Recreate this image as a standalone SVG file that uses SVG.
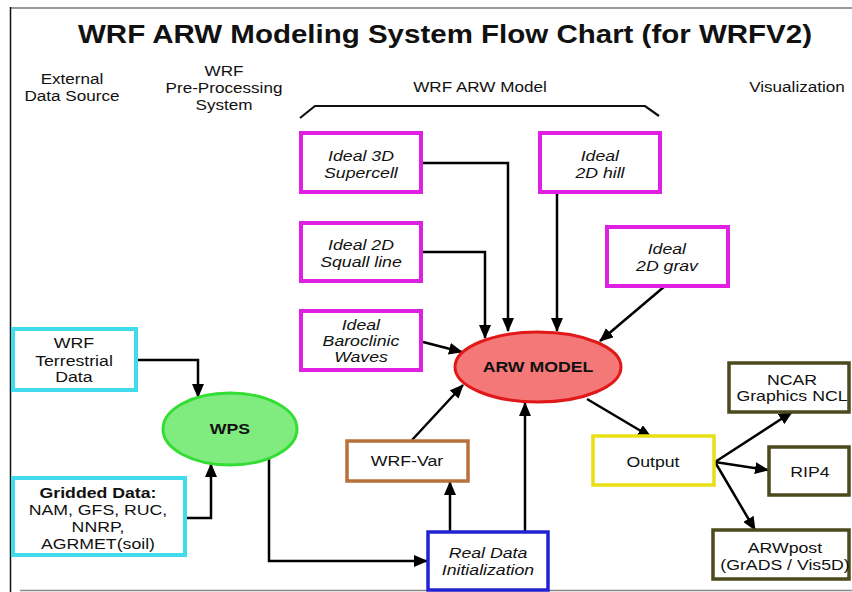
<svg xmlns="http://www.w3.org/2000/svg" width="852" height="592" viewBox="0 0 852 592">
<defs>
<marker id="arr" markerUnits="userSpaceOnUse" markerWidth="14" markerHeight="12" viewBox="0 0 14 12" refX="13" refY="6" orient="auto">
<path d="M0,0 L14,6 L0,12 Z" fill="#000"/>
</marker>
</defs>
<style>
text{font-family:"Liberation Sans",Arial,sans-serif;fill:#111;text-anchor:middle}
text.s{transform-box:fill-box;transform-origin:center;transform:scaleX(1.18)}
.hdr{font-size:14.5px}
.lbl{font-size:15px}
.it{font-size:15px;font-style:italic}
.b{font-weight:bold}
.ideal{fill:#fff;stroke:#e020e0;stroke-width:4}
.cyan{fill:#fff;stroke:#40dced;stroke-width:4}
.olive{fill:#fff;stroke:#4a4a1c;stroke-width:3.5}
.con path,.con line{fill:none;stroke:#000;stroke-width:2.5}
</style>
<rect width="852" height="592" fill="#fff"/>
<g id="frame">
<line x1="10" y1="8" x2="852" y2="8" stroke="#777" stroke-width="1.5"/>
<line x1="10.5" y1="7" x2="10.5" y2="592" stroke="#111" stroke-width="1.5"/>
<line x1="20" y1="590.5" x2="852" y2="590.5" stroke="#888" stroke-width="1.5"/>
</g>
<text x="445" y="43" font-size="25" font-weight="bold" textLength="734" lengthAdjust="spacingAndGlyphs">WRF ARW Modeling System Flow Chart (for WRFV2)</text>
<g id="headers">
<text class="s hdr" x="72" y="84">External</text>
<text class="s hdr" x="72" y="101">Data Source</text>
<text class="s hdr" x="224" y="76">WRF</text>
<text class="s hdr" x="224" y="93">Pre-Processing</text>
<text class="s hdr" x="224" y="110">System</text>
<text class="s hdr" x="480" y="92">WRF ARW Model</text>
<text class="s hdr" x="797" y="92">Visualization</text>
<path d="M300,118 L315,106 L645,106 L659,116" fill="none" stroke="#111" stroke-width="2.2"/>
</g>
<g class="con" id="connectors">
<path d="M421,163 L508,163 L508,331" marker-end="url(#arr)"/>
<path d="M421,252 L485,252 L485,338" marker-end="url(#arr)"/>
<path d="M557,192 L557,331" marker-end="url(#arr)"/>
<path d="M665,286 L600,341" marker-end="url(#arr)"/>
<path d="M423,342 L462,352" marker-end="url(#arr)"/>
<path d="M412,440 L463,385" marker-end="url(#arr)"/>
<path d="M450,532 L450,482" marker-end="url(#arr)"/>
<path d="M525,532 L525,403" marker-end="url(#arr)"/>
<path d="M269,459 L269,561 L427,561" marker-end="url(#arr)"/>
<path d="M136,360 L198,360 L198,397" marker-end="url(#arr)"/>
<path d="M185,518 L211,518 L211,464" marker-end="url(#arr)"/>
<path d="M587,399 L651,437" marker-end="url(#arr)"/>
<path d="M715,462 L792,412" marker-end="url(#arr)"/>
<path d="M715,462 L768,470" marker-end="url(#arr)"/>
<path d="M715,462 L755,530" marker-end="url(#arr)"/>
</g>
<g id="supercell">
<rect class="ideal" x="301" y="133" width="120" height="59"/>
<text class="s it" x="361" y="161">Ideal 3D</text>
<text class="s it" x="361" y="178">Supercell</text>
</g>
<g id="hill">
<rect class="ideal" x="540" y="133" width="120" height="59"/>
<text class="s it" x="600" y="161">Ideal</text>
<text class="s it" x="600" y="178">2D hill</text>
</g>
<g id="squall">
<rect class="ideal" x="301" y="223" width="120" height="58"/>
<text class="s it" x="361" y="250">Ideal 2D</text>
<text class="s it" x="361" y="267">Squall line</text>
</g>
<g id="grav">
<rect class="ideal" x="607" y="227" width="121" height="59"/>
<text class="s it" x="667" y="254">Ideal</text>
<text class="s it" x="667" y="271">2D grav</text>
</g>
<g id="baroclinic">
<rect class="ideal" x="301" y="311" width="120" height="59"/>
<text class="s it" x="361" y="330">Ideal</text>
<text class="s it" x="361" y="346">Baroclinic</text>
<text class="s it" x="361" y="362">Waves</text>
</g>
<g id="arw">
<ellipse cx="538" cy="367" rx="83" ry="35" fill="#f47878" stroke="#e01818" stroke-width="3"/>
<text class="s lbl b" x="538" y="372">ARW MODEL</text>
</g>
<g id="wrfvar">
<rect x="347" y="441" width="121" height="40" fill="#fff" stroke="#b8703c" stroke-width="3.5"/>
<text class="s lbl" x="407" y="466">WRF-Var</text>
</g>
<g id="realdata">
<rect x="428" y="532" width="120" height="58" fill="#fff" stroke="#2222d0" stroke-width="3.5"/>
<text class="s it" x="488" y="558">Real Data</text>
<text class="s it" x="488" y="575">Initialization</text>
</g>
<g id="wps">
<ellipse cx="230" cy="429" rx="67" ry="36" fill="#80ec80" stroke="#33dd33" stroke-width="3"/>
<text class="s lbl b" x="230" y="434">WPS</text>
</g>
<g id="terrestrial">
<rect class="cyan" x="13" y="329" width="123" height="61"/>
<text class="s lbl" x="74" y="348">WRF</text>
<text class="s lbl" x="74" y="366">Terrestrial</text>
<text class="s lbl" x="74" y="382">Data</text>
</g>
<g id="gridded">
<rect class="cyan" x="13" y="478" width="172" height="77"/>
<text class="s lbl b" x="98" y="498">Gridded Data:</text>
<text class="s lbl" x="98" y="515">NAM, GFS, RUC,</text>
<text class="s lbl" x="98" y="532">NNRP,</text>
<text class="s lbl" x="98" y="549">AGRMET(soil)</text>
</g>
<g id="output">
<rect x="593" y="436" width="121" height="49" fill="#fff" stroke="#e8e014" stroke-width="3.5"/>
<text class="s lbl" x="653" y="467">Output</text>
</g>
<g id="ncar">
<rect class="olive" x="729" y="363" width="120" height="49"/>
<text class="s lbl" x="792" y="385">NCAR</text>
<text class="s lbl" x="792" y="401">Graphics NCL</text>
</g>
<g id="rip4">
<rect class="olive" x="769" y="447" width="80" height="48"/>
<text class="s lbl" x="810" y="477">RIP4</text>
</g>
<g id="arwpost">
<rect class="olive" x="713" y="530" width="136" height="49"/>
<text class="s lbl" x="785" y="553">ARWpost</text>
<text class="s lbl" x="785" y="570">(GrADS / Vis5D)</text>
</g>
</svg>
